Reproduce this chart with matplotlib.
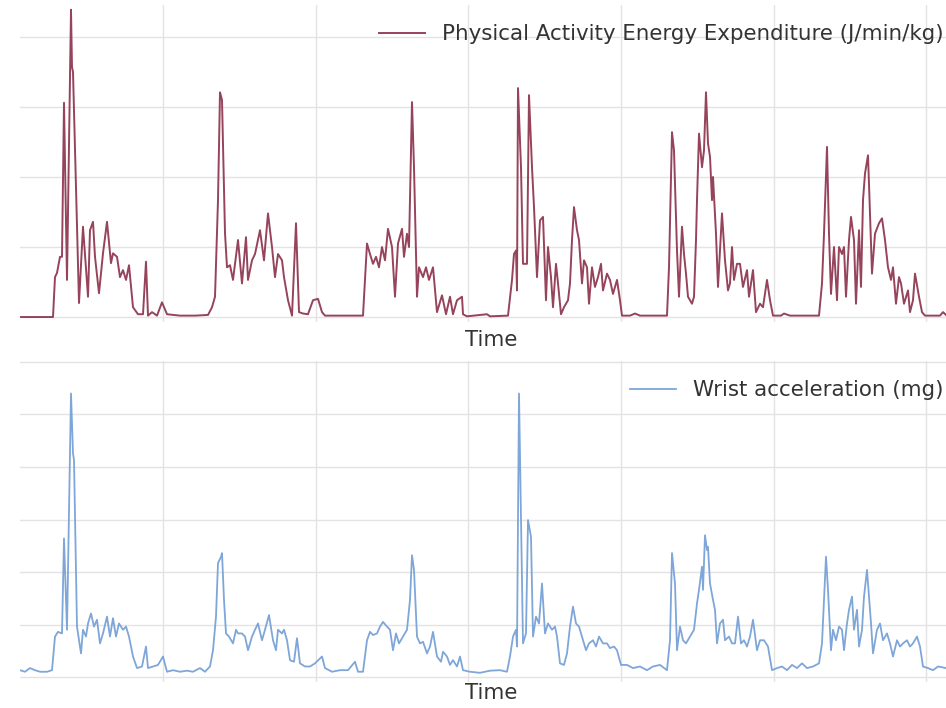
import matplotlib
matplotlib.use("Agg")
import matplotlib.pyplot as plt

# ---- data (time in arbitrary sample units) ----
t_pae = [20, 53, 55, 57, 60, 62, 64, 67, 71, 72, 73, 79, 83, 88, 90, 93, 95, 99, 103, 107,
         111, 113, 117, 120, 123, 126, 129, 133, 138, 143, 146, 148, 152, 157, 162, 167,
         180, 195, 208, 212, 215, 218, 220, 222, 225, 227, 230, 233, 238, 242, 246, 248,
         252, 255, 260, 264, 268, 272, 275, 278, 282, 284, 288, 292, 296, 299, 303, 308,
         313, 318, 322, 325, 340, 355, 363, 367, 370, 373, 376, 379, 382, 385, 388, 392,
         395, 398, 402, 404, 407, 409, 412, 414, 417, 419, 423, 426, 429, 433, 437, 442,
         446, 450, 453, 457, 462, 463, 467, 487, 490, 508, 512, 514, 516, 517, 518, 521,
         523, 527, 529, 532, 534, 537, 540, 543, 546, 548, 551, 553, 556, 558, 561, 564,
         568, 570, 572, 574, 577, 579, 582, 584, 587, 589, 592, 595, 598, 601, 603, 607,
         610, 613, 617, 620, 622, 630, 635, 640, 667, 669, 672, 674, 677, 679, 682, 684,
         686, 688, 692, 694, 696, 697, 699, 702, 704, 706, 708, 710, 712, 713, 716, 718,
         722, 725, 728, 730, 732, 734, 737, 740, 743, 747, 749, 753, 756, 760, 763, 767,
         770, 773, 781, 784, 790, 819, 822, 824, 827, 829, 831, 834, 837, 839, 842, 844,
         846, 849, 851, 854, 856, 859, 861, 863, 865, 868, 869, 872, 875, 879, 882, 885,
         888, 891, 893, 896, 899, 901, 904, 908, 910, 913, 915, 919, 922, 925, 940, 943, 946]
pae = [0.0, 0.0, 0.57, 0.63, 0.86, 0.86, 3.06, 0.53, 4.39, 3.57, 3.50, 0.20, 1.29, 0.29,
       1.24, 1.36, 0.86, 0.34, 0.91, 1.36, 0.77, 0.91, 0.86, 0.57, 0.67, 0.53, 0.74, 0.14,
       0.04, 0.04, 0.79, 0.02, 0.07, 0.02, 0.21, 0.04, 0.02, 0.02, 0.03, 0.14, 0.29, 1.67,
       3.21, 3.10, 1.20, 0.71, 0.74, 0.53, 1.10, 0.48, 1.14, 0.53, 0.81, 0.90, 1.24, 0.81,
       1.48, 1.00, 0.57, 0.90, 0.81, 0.57, 0.24, 0.02, 1.34, 0.07, 0.05, 0.04, 0.24, 0.26,
       0.07, 0.02, 0.02, 0.02, 0.02, 1.05, 0.90, 0.76, 0.86, 0.71, 1.00, 0.81, 1.26, 1.00,
       0.29, 1.05, 1.26, 0.86, 1.19, 1.00, 3.07, 2.14, 0.29, 0.71, 0.57, 0.71, 0.53, 0.71,
       0.07, 0.31, 0.04, 0.29, 0.04, 0.24, 0.29, 0.04, 0.01, 0.04, 0.01, 0.02, 0.53, 0.90,
       0.95, 0.38, 3.27, 2.14, 0.76, 0.76, 3.17, 2.14, 1.57, 0.57, 1.38, 1.43, 0.24, 1.00,
       0.57, 0.14, 0.76, 0.48, 0.04, 0.14, 0.24, 0.48, 1.10, 1.57, 1.24, 1.10, 0.48, 0.81,
       0.71, 0.19, 0.71, 0.43, 0.57, 0.76, 0.38, 0.62, 0.53, 0.33, 0.53, 0.24, 0.02, 0.02,
       0.05, 0.02, 0.02, 0.71, 2.64, 2.38, 0.95, 0.29, 1.29, 0.90, 0.62, 0.29, 0.19, 0.29,
       1.10, 1.67, 2.62, 2.14, 2.38, 3.21, 2.48, 2.29, 1.67, 2.00, 1.19, 0.43, 1.48, 0.81,
       0.38, 0.48, 1.00, 0.53, 0.76, 0.76, 0.43, 0.67, 0.29, 0.67, 0.07, 0.19, 0.14, 0.53,
       0.24, 0.02, 0.02, 0.05, 0.02, 0.02, 0.48, 1.19, 2.43, 1.19, 0.33, 1.00, 0.24, 1.00,
       0.90, 1.00, 0.29, 1.10, 1.43, 1.10, 0.19, 1.24, 0.43, 1.67, 2.05, 2.31, 1.90, 0.62,
       1.19, 1.34, 1.41, 1.10, 0.71, 0.53, 0.71, 0.19, 0.57, 0.48, 0.19, 0.38, 0.07, 0.24,
       0.62, 0.29, 0.07, 0.02, 0.02, 0.07, 0.03]

t_acc = [20, 25, 30, 35, 40, 47, 52, 55, 58, 62, 64, 67, 71, 73, 74, 77, 81, 83, 86, 88,
         91, 94, 97, 100, 103, 107, 110, 113, 116, 119, 123, 126, 129, 133, 137, 142, 146,
         148, 153, 158, 163, 167, 173, 180, 187, 193, 200, 205, 210, 213, 216, 218, 221,
         222, 224, 226, 229, 233, 236, 238, 242, 245, 248, 252, 255, 258, 262, 265, 269,
         273, 276, 278, 282, 284, 287, 290, 294, 297, 300, 305, 310, 315, 322, 325, 332,
         340, 348, 355, 358, 363, 367, 370, 373, 377, 380, 383, 387, 390, 393, 396, 399,
         403, 407, 410, 412, 414, 417, 420, 423, 427, 430, 433, 437, 441, 443, 447, 450,
         453, 457, 460, 463, 470, 480, 490, 500, 507, 510, 513, 516, 517, 519, 521, 523,
         526, 528, 531, 533, 536, 539, 542, 545, 548, 552, 555, 557, 560, 564, 567, 570,
         573, 576, 579, 583, 586, 589, 593, 596, 599, 603, 607, 610, 614, 617, 621, 627,
         633, 640, 647, 653, 660, 667, 670, 672, 675, 677, 680, 683, 686, 690, 694, 697,
         699, 702, 703, 705, 707, 708, 710, 713, 715, 717, 720, 723, 725, 729, 732, 735,
         738, 741, 744, 747, 750, 753, 757, 760, 764, 768, 772, 777, 782, 787, 792, 797,
         802, 807, 813, 819, 822, 824, 826, 828, 831, 833, 836, 839, 842, 844, 847, 849,
         852, 854, 857, 859, 862, 864, 867, 868, 871, 873, 877, 880, 883, 887, 890, 893,
         897, 900, 903, 907, 910, 913, 917, 920, 923, 928, 933, 938, 946]
acc = [0.13, 0.10, 0.17, 0.13, 0.10, 0.10, 0.13, 0.77, 0.86, 0.83, 2.64, 0.90, 5.40, 4.26,
       4.13, 0.96, 0.45, 0.90, 0.77, 1.02, 1.21, 0.96, 1.09, 0.64, 0.83, 1.15, 0.77, 1.12,
       0.77, 1.02, 0.90, 0.96, 0.77, 0.39, 0.17, 0.20, 0.58, 0.17, 0.20, 0.23, 0.39, 0.10,
       0.13, 0.10, 0.12, 0.10, 0.17, 0.10, 0.20, 0.51, 1.15, 2.17, 2.29, 2.36, 1.47, 0.83,
       0.77, 0.64, 0.90, 0.83, 0.83, 0.77, 0.51, 0.77, 0.90, 1.02, 0.70, 0.90, 1.18, 0.70,
       0.51, 0.90, 0.83, 0.90, 0.70, 0.32, 0.29, 0.74, 0.26, 0.20, 0.20, 0.26, 0.39, 0.17,
       0.10, 0.13, 0.13, 0.29, 0.10, 0.10, 0.70, 0.86, 0.80, 0.83, 0.96, 1.05, 0.96, 0.90,
       0.51, 0.83, 0.64, 0.77, 0.90, 1.47, 2.32, 2.04, 0.77, 0.64, 0.67, 0.45, 0.58, 0.86,
       0.39, 0.29, 0.48, 0.39, 0.23, 0.32, 0.20, 0.39, 0.13, 0.10, 0.08, 0.12, 0.13, 0.10,
       0.39, 0.77, 0.90, 0.58, 5.40, 3.05, 0.64, 0.83, 2.99, 2.67, 0.77, 1.15, 1.02, 1.78,
       0.83, 1.02, 0.90, 0.96, 0.77, 0.26, 0.23, 0.45, 0.96, 1.34, 1.02, 0.96, 0.70, 0.51,
       0.64, 0.70, 0.58, 0.77, 0.64, 0.64, 0.55, 0.58, 0.51, 0.23, 0.23, 0.17, 0.20, 0.13,
       0.20, 0.23, 0.13, 0.70, 2.36, 1.78, 0.51, 0.96, 0.70, 0.64, 0.77, 0.90, 1.40, 1.66,
       2.10, 1.66, 2.70, 2.42, 2.48, 1.78, 1.47, 1.28, 0.64, 1.02, 1.09, 0.70, 0.77, 0.64,
       0.64, 1.15, 0.64, 0.70, 0.58, 0.77, 1.09, 0.51, 0.70, 0.70, 0.58, 0.13, 0.17, 0.20,
       0.13, 0.23, 0.17, 0.26, 0.17, 0.20, 0.26, 0.64, 1.47, 2.29, 1.66, 0.51, 0.90, 0.70,
       0.96, 0.90, 0.51, 1.02, 1.28, 1.53, 0.90, 1.28, 0.58, 0.90, 1.53, 2.04, 1.78, 1.02,
       0.45, 0.90, 1.02, 0.70, 0.83, 0.64, 0.39, 0.70, 0.58, 0.64, 0.70, 0.58, 0.64, 0.77,
       0.58, 0.20, 0.17, 0.13, 0.20, 0.17]

label_pae = "Physical Activity Energy Expenditure (J/min/kg)"
label_acc = "Wrist acceleration (mg)"
xlabel = "Time"

# ---- figure ----
W, H = 946, 708
fig = plt.figure(figsize=(W / 100, H / 100), dpi=100)
fig.patch.set_facecolor("white")

def px_axes(left, top, right, bottom):
    return fig.add_axes([left / W, 1 - bottom / H, (right - left) / W, (bottom - top) / H])

ax1 = px_axes(20, 5, 963, 322)
ax2 = px_axes(20, 361, 963, 682)

day_ticks = [10.5 + 152.6 * k for k in range(7)]

for ax in (ax1, ax2):
    ax.set_facecolor("white")
    for s in ax.spines.values():
        s.set_visible(False)
    ax.set_xticks(day_ticks)
    ax.grid(True, color="#e3e3e3", linewidth=1.0)
    ax.set_axisbelow(True)
    ax.tick_params(length=0, labelleft=False, labelbottom=False)
    ax.set_xlim(20, 963)

ax1.set_xlabel(xlabel, fontsize=15.4, color="#333333", labelpad=6)
ax2.set_xlabel(xlabel, fontsize=15.4, color="#333333", labelpad=1)

ax1.plot(t_pae, pae, color="#96435c", linewidth=1.4, label=label_pae)
ax1.set_yticks([0, 1, 2, 3, 4])
ax1.set_ylim(-0.071, (317 - 5) / 70)

ax2.plot(t_acc, acc, color="#7ea6d8", linewidth=1.3, label=label_acc)
ax2.set_yticks([0, 1, 2, 3, 4, 5, 6])
ax2.set_ylim(-5 / 52.5, (677 - 361) / 52.5)

for ax in (ax1, ax2):
    leg = ax.legend(loc="upper right", fontsize=15.4, frameon=False, handlelength=2.15)
    for txt in leg.get_texts():
        txt.set_color("#333333")

fig.savefig("out.png", dpi=100, facecolor="white")
